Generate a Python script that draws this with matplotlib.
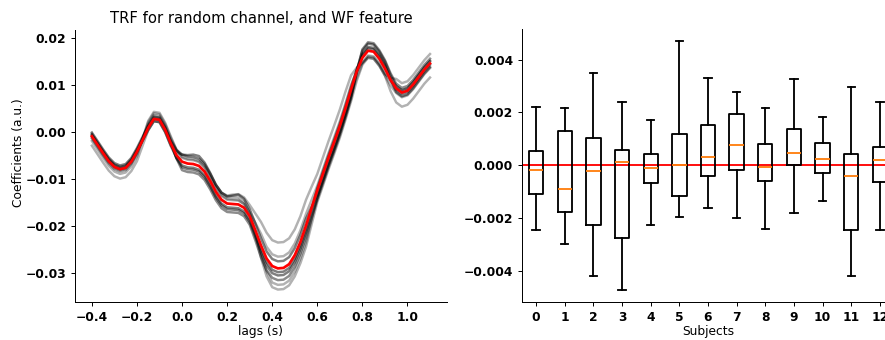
import numpy as np
import matplotlib
matplotlib.use("Agg")
import matplotlib.pyplot as plt

# TRF lags (s), 0.025 s steps from -0.4 to 1.1
lags = np.linspace(-0.4, 1.1, 61)

# mean TRF over subjects (x1e-3 a.u.)
trf_mean = [-1.0, -2.8, -4.6, -6.3, -7.5, -8.0, -7.7, -6.4, -4.3, -1.8,
            0.8, 2.7, 2.5, 0.4, -2.5, -5.0, -6.4, -6.8, -6.9, -7.3,
            -8.5, -10.5, -12.8, -14.5, -15.3, -15.4, -15.5, -16.2, -18.0, -21.0,
            -24.2, -27.0, -28.6, -29.1, -29.0, -28.2, -26.3, -23.5, -20.0, -16.2,
            -12.5, -9.0, -5.5, -2.2, 1.2, 5.0, 9.0, 12.8, 15.7, 17.2,
            17.0, 15.5, 13.4, 11.0, 9.2, 8.3, 8.7, 10.0, 11.6, 13.2, 14.5]

# single subject TRFs (x1e-3 a.u.)
trf_s1 = [-0.2, -2.0, -3.8, -5.5, -6.7, -7.2, -6.9, -5.6, -3.5, -1.1,
          1.3, 3.2, 3.0, 0.9, -2.0, -4.0, -4.9, -5.0, -4.9, -5.2,
          -6.6, -8.8, -11.3, -13.0, -13.8, -13.6, -13.4, -14.3, -16.5, -19.5,
          -22.7, -25.5, -27.1, -27.6, -27.5, -26.7, -24.8, -22.0, -18.5, -16.0,
          -13.5, -10.0, -6.5, -3.2, 0.2, 4.0, 8.0, 13.0, 17.2, 18.7,
          18.5, 17.0, 14.9, 12.0, 9.7, 8.8, 9.2, 10.5, 12.1, 13.7, 15.0]
trf_s2 = [-0.7, -2.5, -4.3, -6.0, -7.2, -7.7, -7.4, -6.1, -4.0, -1.7,
          0.8, 2.7, 2.5, 0.4, -2.5, -5.6, -7.6, -8.0, -8.1, -8.5,
          -9.7, -11.7, -14.0, -15.7, -16.5, -16.6, -16.7, -17.4, -19.2, -22.4,
          -25.7, -28.5, -30.1, -30.6, -30.5, -29.7, -27.8, -25.0, -21.5, -17.7,
          -14.0, -10.5, -7.0, -3.7, -0.3, 3.5, 7.5, 12.4, 16.5, 18.0,
          17.8, 16.3, 14.2, 11.0, 8.4, 7.5, 7.9, 9.2, 10.8, 12.4, 13.7]
trf_s3 = [-3.0, -4.8, -6.6, -8.3, -9.5, -10.0, -9.7, -8.4, -6.3, -3.0,
          0.3, 2.2, 2.0, -0.1, -3.0, -4.5, -4.9, -5.3, -5.4, -5.8,
          -7.0, -9.0, -11.3, -13.0, -13.6, -13.4, -13.3, -14.0, -15.6, -17.4,
          -19.2, -21.5, -23.1, -23.6, -23.5, -22.7, -20.8, -18.0, -14.5, -11.7,
          -9.0, -5.5, -2.0, 1.3, 4.7, 8.5, 12.0, 13.6, 14.6, 15.7,
          15.5, 14.0, 11.9, 9.8, 8.2, 7.3, 7.7, 9.0, 10.6, 12.2, 13.5]
trf_s4 = [-2.0, -3.8, -5.6, -7.3, -8.5, -9.0, -8.7, -7.4, -5.3, -1.5,
          2.3, 4.2, 4.0, 1.9, -1.0, -3.8, -5.4, -5.8, -5.9, -6.3,
          -7.5, -9.5, -11.8, -13.5, -14.3, -14.4, -14.5, -15.4, -17.8, -21.8,
          -26.8, -30.8, -33.1, -33.6, -33.5, -32.7, -30.8, -28.0, -24.5, -19.7,
          -15.0, -11.5, -8.0, -4.7, -1.3, 2.5, 6.5, 10.8, 14.2, 15.7,
          15.5, 14.0, 11.9, 8.6, 6.2, 5.3, 5.7, 7.0, 8.6, 10.2, 11.5]
trf_s5 = [-0.5, -2.3, -4.1, -5.8, -7.0, -7.5, -7.2, -5.9, -3.8, -1.4,
          1.1, 3.0, 2.8, 0.7, -2.2, -5.7, -8.2, -8.6, -8.7, -9.1,
          -10.3, -12.3, -14.6, -16.3, -17.1, -17.2, -17.3, -18.0, -19.8, -23.1,
          -26.7, -29.5, -31.1, -31.6, -31.5, -30.7, -28.8, -26.0, -22.5, -18.4,
          -14.5, -11.0, -7.5, -4.2, -0.8, 3.0, 7.0, 12.8, 17.5, 19.0,
          18.8, 17.3, 15.2, 12.4, 10.2, 9.3, 9.7, 11.0, 12.6, 14.2, 15.5]
trf_s6 = [-1.5, -3.3, -5.1, -6.8, -8.0, -8.5, -8.2, -6.9, -4.8, -1.6,
          2.0, 3.9, 3.7, 1.6, -1.3, -4.0, -5.6, -6.0, -6.1, -6.5,
          -7.7, -9.7, -12.0, -13.7, -14.5, -14.6, -14.7, -15.4, -17.2, -19.4,
          -21.7, -24.5, -26.1, -26.6, -26.5, -25.7, -23.8, -21.0, -17.5, -14.5,
          -11.5, -8.0, -4.5, -1.2, 2.2, 6.0, 10.0, 12.8, 14.7, 16.2,
          16.0, 14.5, 12.4, 10.8, 9.7, 8.8, 9.2, 10.5, 12.1, 13.7, 15.0]
trf_s7 = [-1.0, -2.8, -4.6, -6.3, -7.5, -8.0, -7.7, -6.4, -4.3, -2.0,
          0.3, 2.2, 2.0, -0.1, -3.0, -5.6, -7.2, -7.6, -7.7, -8.1,
          -9.3, -11.3, -13.6, -15.3, -16.1, -16.2, -16.3, -17.0, -18.8, -21.8,
          -25.0, -27.8, -29.4, -29.9, -29.8, -29.0, -27.1, -24.3, -20.8, -16.4,
          -12.0, -8.5, -5.0, -1.7, 1.7, 5.5, 9.5, 13.3, 16.2, 17.7,
          17.5, 16.0, 13.9, 11.1, 8.9, 8.0, 8.4, 9.7, 11.3, 12.9, 14.2]
trf_s8 = [-1.3, -3.1, -4.9, -6.6, -7.8, -8.3, -8.0, -6.7, -4.6, -1.6,
          1.6, 3.5, 3.3, 1.2, -1.7, -3.8, -4.9, -5.3, -5.4, -5.8,
          -7.0, -9.0, -11.3, -13.0, -13.8, -13.9, -14.0, -14.9, -17.3, -21.2,
          -25.9, -29.8, -32.1, -32.6, -32.5, -31.7, -29.8, -27.0, -23.5, -18.7,
          -14.0, -10.5, -7.0, -3.7, -0.3, 3.5, 7.5, 11.4, 14.5, 16.0,
          15.8, 14.3, 12.2, 11.4, 11.2, 10.3, 10.7, 12.0, 13.6, 15.2, 16.5]
trf_subjects = [trf_s1, trf_s2, trf_s3, trf_s4, trf_s5, trf_s6, trf_s7, trf_s8]

# per subject correlation spread (x1e-3)
subjects = list(range(13))
whis_hi = [2.22, 2.17, 3.49, 2.41, 1.71, 4.69, 3.29, 2.76, 2.17, 3.25, 1.83, 2.96, 2.39]
q3 = [0.55, 1.30, 1.04, 0.58, 0.42, 1.18, 1.52, 1.93, 0.79, 1.38, 0.84, 0.44, 0.69]
med = [-0.18, -0.89, -0.20, 0.11, -0.10, 0.01, 0.33, 0.76, -0.08, 0.47, 0.23, -0.41, 0.20]
q1 = [-1.07, -1.78, -2.25, -2.74, -0.67, -1.18, -0.42, -0.19, -0.60, 0.00, -0.28, -2.43, -0.63]
whis_lo = [-2.46, -2.97, -4.19, -4.70, -2.27, -1.96, -1.63, -1.98, -2.41, -1.80, -1.36, -4.19, -2.45]

alphas = [0.5, 0.5, 0.3, 0.3, 0.45, 0.3, 0.5, 0.3]

plt.rcParams['font.family'] = ['DejaVu Sans']

fig = plt.figure(figsize=(10, 3.842), dpi=88.5)
ax1 = fig.add_axes([0.0847, 0.112, 0.4203, 0.8])
ax2 = fig.add_axes([0.5895, 0.112, 0.421, 0.803])

# left: TRF of every subject plus the mean in red
for trf, a in zip(trf_subjects, alphas):
    ax1.plot(lags, np.array(trf) * 1e-3, color='k', alpha=a, lw=2)
ax1.plot(lags, np.array(trf_mean) * 1e-3, color='red', lw=2.2)
ax1.set_xticks(np.round(np.arange(-0.4, 1.01, 0.2), 1))
ax1.set_title("TRF for random channel, and WF feature", fontsize=12)
ax1.set_xlabel("lags (s)", fontsize=10, labelpad=1)
ax1.set_ylabel("Coefficients (a.u.)", fontsize=10)
ax1.yaxis.set_label_coords(-0.135, 0.55)

# right: boxplot per subject
stats = []
for i in subjects:
    stats.append({'whislo': whis_lo[i] * 1e-3, 'q1': q1[i] * 1e-3, 'med': med[i] * 1e-3,
                  'q3': q3[i] * 1e-3, 'whishi': whis_hi[i] * 1e-3, 'fliers': []})
ax2.axhline(0, color='red', lw=1.5, zorder=1)
ax2.bxp(stats, positions=subjects, widths=0.5, showfliers=False,
        boxprops=dict(lw=1.5), whiskerprops=dict(lw=1.5), capprops=dict(lw=1.5),
        medianprops=dict(color='C1', lw=1.5))
ax2.set_xlim(-0.5, 12.5)
ax2.set_xlabel("Subjects", fontsize=10, labelpad=1)

for ax in (ax1, ax2):
    ax.spines['top'].set_visible(False)
    ax.spines['right'].set_visible(False)
    ax.tick_params(labelsize=10)
    for lab in ax.get_xticklabels() + ax.get_yticklabels():
        lab.set_fontweight('bold')

fig.savefig("out.png", dpi=88.5)
